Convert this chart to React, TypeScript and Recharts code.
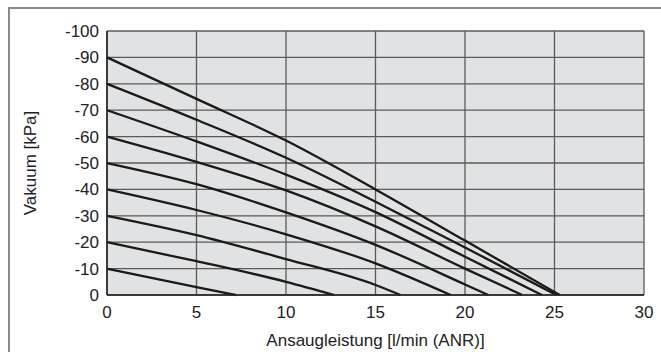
import { CartesianGrid, Line, LineChart, XAxis, YAxis, Label } from 'recharts';

// each curve: [flow l/min, vacuum kPa]
const curve10: [number, number][] = [[0, -10], [5, -3], [7.2, 0]];
const curve20: [number, number][] = [[0, -20], [5, -12.8], [10, -5], [12.7, 0]];
const curve30: [number, number][] = [[0, -30], [5, -22.7], [10, -13.6], [15, -3.8], [16.4, 0]];
const curve40: [number, number][] = [[0, -40], [5, -32.2], [10, -23], [15, -12], [19.2, 0]];
const curve50: [number, number][] = [[0, -50], [5, -42], [10, -31.3], [15, -19], [20, -4], [21.3, 0]];
const curve60: [number, number][] = [[0, -60], [5, -50.4], [10, -39.6], [15, -26], [20, -10], [23.2, 0]];
const curve70: [number, number][] = [[0, -70], [5, -58.2], [10, -45.6], [15, -31.4], [20, -14.5], [24.3, 0]];
const curve80: [number, number][] = [[0, -80], [5, -66.4], [10, -52], [15, -35.3], [20, -18], [25.1, 0]];
const curve90: [number, number][] = [[0, -90], [5, -74.3], [10, -58.5], [15, -40], [20, -20.6], [25.3, 0]];

const curves = [curve10, curve20, curve30, curve40, curve50, curve60, curve70, curve80, curve90];

const xTicks = [0, 5, 10, 15, 20, 25, 30];
const yTicks = [-100, -90, -80, -70, -60, -50, -40, -30, -20, -10, 0];

const font = '"Liberation Sans", Arial, sans-serif';

export default function App() {
  return (
    <div style={{ position: 'absolute', left: 0, top: 0, width: 661, height: 352, background: '#fff', fontFamily: font }}>
      <div
        style={{
          position: 'absolute',
          left: 8,
          top: 7,
          right: 0,
          bottom: 0,
          borderLeft: '2px solid #8a8a8a',
          borderTop: '2px solid #8a8a8a',
        }}
      />
      <LineChart width={661} height={352} margin={{ top: 31, right: 17, bottom: 0, left: 0 }} style={{ position: 'absolute', left: 0, top: 0 }}>
        <CartesianGrid fill="#e1e2e4" stroke="#5a5a5a" strokeWidth={1.3} />
        <XAxis
          dataKey="flow"
          type="number"
          domain={[0, 30]}
          ticks={xTicks}
          height={57}
          tickLine={false}
          tickSize={0}
          tickMargin={11}
          axisLine={{ stroke: '#222', strokeWidth: 1.5 }}
          tick={{ fill: '#222', fontSize: 17, fontFamily: font }}
        >
          <Label value="Ansaugleistung [l/min (ANR)]" position="insideBottom" offset={6} fill="#222" fontSize={17} fontFamily={font} />
        </XAxis>
        <YAxis
          dataKey="vac"
          type="number"
          domain={[-100, 0]}
          reversed
          ticks={yTicks}
          width={107}
          tickLine={false}
          tickSize={0}
          tickMargin={8}
          axisLine={{ stroke: '#222', strokeWidth: 1.5 }}
          tick={{ fill: '#222', fontSize: 17, fontFamily: font }}
        >
          <Label value="Vakuum [kPa]" angle={-90} position="insideLeft" offset={30} fill="#222" fontSize={17} fontFamily={font} style={{ textAnchor: 'middle' }} />
        </YAxis>
        {curves.map((c, i) => (
          <Line
            key={i}
            data={c.map(([flow, vac]) => ({ flow, vac }))}
            dataKey="vac"
            type="monotone"
            stroke="#1a1a1a"
            strokeWidth={2.3}
            dot={false}
            isAnimationActive={false}
          />
        ))}
      </LineChart>
    </div>
  );
}
